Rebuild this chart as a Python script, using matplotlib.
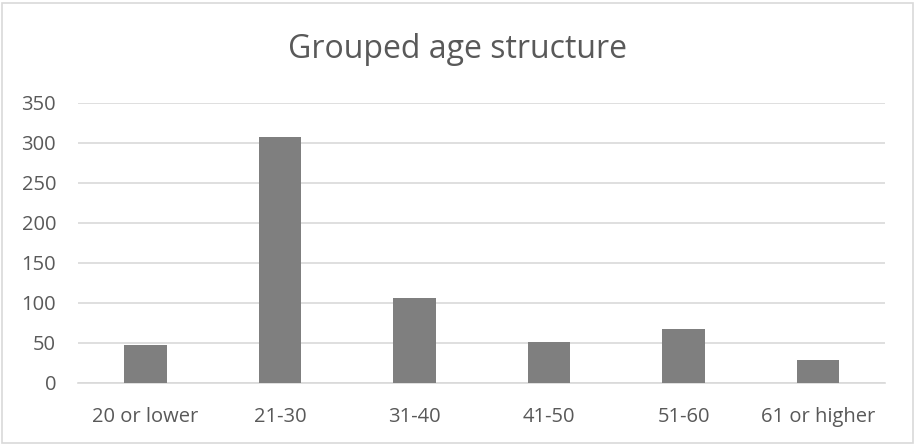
import matplotlib.pyplot as plt
from matplotlib.patches import Rectangle

categories = ["20 or lower", "21-30", "31-40", "41-50", "51-60", "61 or higher"]
counts = [48, 307, 106, 51, 68, 29]
yticks = [0, 50, 100, 150, 200, 250, 300, 350]

TEXT = "#595959"
GRID = "#d9d9d9"
BAR = "#7f7f7f"

plt.rcParams["font.family"] = ["Open Sans", "DejaVu Sans"]

fig = plt.figure(figsize=(9.16, 4.46), dpi=100)
ax = fig.add_axes([0.0855, 0.1413, 0.881, 0.628])

x = range(len(categories))
ax.bar(x, counts, width=0.315, color=BAR, zorder=3)

ax.set_xlim(-0.5, len(categories) - 0.5)
ax.set_ylim(0, 350)
ax.set_yticks(yticks)
ax.set_xticks(list(x))
ax.set_xticklabels(categories)
ax.tick_params(axis="both", length=0, colors=TEXT, labelsize=14.5)
ax.tick_params(axis="x", pad=17)
ax.tick_params(axis="y", pad=16)
ax.grid(axis="y", color=GRID, linewidth=1.2, zorder=0)
for side in ["top", "right", "left"]:
    ax.spines[side].set_visible(False)
ax.spines["bottom"].set_color(GRID)
ax.spines["bottom"].set_linewidth(1.2)

fig.text(0.5, 0.89, "Grouped age structure", ha="center", va="center",
         fontsize=23, color=TEXT)

# light frame around the whole chart, like the spreadsheet chart area
fig.patches.append(Rectangle((2 / 916, 3 / 446), 911 / 916, 440 / 446,
                             transform=fig.transFigure, fill=False,
                             edgecolor=GRID, linewidth=1.2))

fig.savefig("out.png", dpi=100)
